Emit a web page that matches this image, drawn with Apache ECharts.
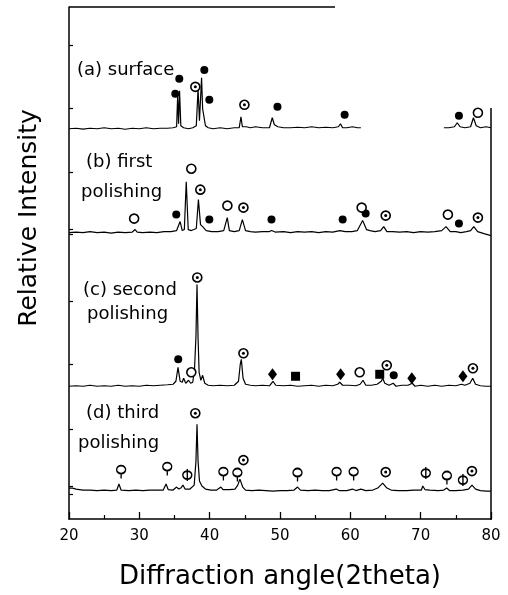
<!DOCTYPE html>
<html><head><meta charset="utf-8">
<script src="https://cdn.jsdelivr.net/npm/echarts@6/dist/echarts.min.js"></script>
<style>html,body{margin:0;padding:0;background:#fff}#c{width:508px;height:595px}</style>
</head><body><div id="c"></div>
<script>
// ---- data ----
const xLabels = [20, 30, 40, 50, 60, 70, 80];
const xName = 'Diffraction angle(2theta)';
const yName = 'Relative Intensity';
const panelLabels = ['(a) surface', '(b) first', 'polishing', '(c) second', 'polishing', '(d) third', 'polishing'];
const yTickValues = [475, 412, 347, 290, 285, 218, 155, 90, 33, 25];
// stacking offsets for (a),(b),(c),(d)
const offsets = [391, 287, 133, 28];

const patternA = [[20,0],[21,0.5],[22,-0.3],[23,0.5],[24,0],[25,1],[26,0],[27,0.5],[28,-0.5],[29,0.5],[30,0],[31,1],[32,0],[33,0.5],[34,0.5],[34.8,1],[35.3,2],[35.45,33],[35.58,5],[35.72,38],[35.9,3],[36.3,1],[37,0],[37.6,1],[38.1,3],[38.35,40],[38.55,8],[38.85,51],[39.0,20],[39.15,18],[39.4,3],[39.8,1],[40.5,0],[41.5,1],[42.5,0],[43.5,1],[44.2,1],[44.45,12],[44.65,2],[45.2,2],[45.8,1],[46.5,2],[47.5,1],[48.5,1],[48.9,11],[49.2,4],[49.7,2],[50.5,1],[51.5,1],[52.5,1.5],[53.5,1],[54.5,2],[55.5,1],[56.5,1.5],[57.5,1],[58.3,2],[58.6,5],[58.9,1],[59.5,1],[60.3,2],[61,1],[61.5,1],[67,null],[73.3,1],[74,1],[74.8,2],[75.2,6],[75.6,2],[76.3,1],[77.1,2],[77.5,11],[77.9,3],[78.5,1],[79.3,2],[80,1]];
const patternB = [[20,0],[21,0.5],[22,0],[23,1],[24,0],[25,0.5],[26,-0.5],[27,0.5],[28,0],[29,0.5],[29.4,3],[29.7,0.5],[30.5,0],[31.5,0.5],[32.5,0],[33.5,1],[34.5,1],[35.3,2],[35.8,11],[36.1,2],[36.4,3],[36.67,51],[36.95,3],[37.4,2],[38.1,4],[38.4,33],[38.7,8],[39,6],[39.5,2],[40.3,1],[41.2,1],[42,2],[42.5,15],[42.8,2],[43.5,1],[44.2,2],[44.65,13],[45.1,2],[45.8,1],[46.5,0.5],[47.5,1],[48.5,1],[48.8,2],[49.3,0.5],[50.5,1],[51.5,0],[52.5,1],[53.5,0.5],[54.5,1],[55.5,0],[56.5,1],[57.5,0.5],[58.5,2],[59.3,1],[60.2,1],[61,2],[61.75,12],[62.3,3],[62.8,2],[63.5,1],[64.3,2],[64.75,6],[65.2,1],[66,1],[67,0.5],[68,1],[69,0],[70,1],[71,0.5],[72,1],[73,2],[73.6,6],[74.2,1],[75,1],[75.7,0],[76.5,1],[77.1,2],[77.55,6],[78.1,1],[79,-1],[80,-3]];
const patternC = [[20,0],[21,0.5],[22,0],[23,1],[24,0],[25,0.5],[26,0],[27,1],[28,0],[29,0.5],[30,0],[31,1],[32,0.5],[33,1],[34,1.5],[34.8,2],[35.2,5],[35.5,19],[35.8,5],[36.1,4],[36.3,8],[36.6,3],[37.0,6],[37.3,3],[37.6,4],[37.85,18],[38.05,50],[38.2,102],[38.35,48],[38.5,14],[38.75,6],[39.0,11],[39.3,3],[39.8,1],[40.5,0.5],[41.5,1],[42.5,0.5],[43.5,1],[44.1,5],[44.35,22],[44.5,27],[44.75,8],[45.1,2],[45.8,1],[46.5,0.5],[47.5,1],[48.5,0.5],[49.0,5],[49.4,1],[50.5,0.5],[51.5,1],[52.5,0],[53.5,0.5],[54.5,1],[55.5,0],[56.5,1],[57.5,0.5],[58.2,2],[58.5,4],[58.9,1],[59.8,1],[60.8,0.5],[61.4,2],[61.8,6],[62.2,1],[63,1],[63.8,2],[64.4,5],[64.6,8],[64.9,3],[65.5,1],[66.1,3],[66.5,0],[67.3,1],[68.2,1],[68.8,3],[69.2,0],[70,1],[71,0],[72,1],[73,0],[74,1],[75,0.5],[75.8,2],[76.3,1],[77.0,3],[77.4,8],[77.8,2],[78.5,0.5],[79.3,0],[80,0]];
const patternD = [[20,3],[20.5,3],[21,2],[22,1],[23,1],[24,0.5],[25,1],[26,0.5],[26.8,1],[27.1,7],[27.4,1],[28.5,0.5],[29.5,1],[30.5,0.5],[31.5,1],[32.5,1],[33.4,1],[33.8,7],[34.1,1.5],[34.8,1],[35.3,4],[35.6,2],[35.9,3],[36.2,6],[36.5,2],[37.2,2],[37.8,6],[38.05,30],[38.2,67],[38.35,30],[38.55,10],[38.9,5],[39.4,2],[40.2,1],[41.0,1],[41.6,4],[41.9,1.5],[42.8,1.5],[43.6,2],[44.0,6],[44.3,12],[44.5,11],[44.7,4],[45.1,1],[46,0.5],[47,1],[48,0.5],[49,0],[50,0.5],[51,0.5],[52,1],[52.5,4],[52.9,1],[54,0.5],[55,1],[56,0.5],[57,0.5],[58,2],[58.4,0.5],[59.5,0.5],[60.3,2],[60.8,0.5],[61.5,2],[62.2,0.5],[63.2,1],[63.9,3],[64.6,8],[65.2,3],[65.8,1],[66.8,0.5],[68,0.5],[69,1],[70.1,1],[70.3,5],[70.6,1.5],[71.3,1],[72.5,0.5],[73.3,1],[73.7,3],[74.1,0.5],[75,0.5],[76,1],[76.8,2],[77.3,6],[77.8,2],[78.5,0.5],[79.3,0],[80,0]];

// phase markers [2theta, plotted height]
const markFilledCircle = [[35.11,426],[35.68,441],[39.24,450],[39.95,420],[49.64,413],[59.19,405],[75.44,404],
  [35.25,305],[39.95,300],[48.79,300],[58.91,300],[62.18,306],[75.44,296],
  [35.53,160],[66.17,144]];
const markOpenCircle = [[78.14,407],
  [29.26,301],[37.39,351],[42.52,314],[61.61,312],[73.87,305],
  [37.39,147],[61.33,147]];
const markDotCircle = [[37.96,433],[44.94,415],
  [38.67,330],[44.80,312],[65.03,304],[78.14,302],
  [38.24,242],[44.80,166],[65.18,154],[77.43,151],
  [37.96,106],[44.80,59],[65.03,47],[77.29,48]];
const markDiamond = [[48.93,145],[58.62,145],[68.74,141],[76.01,143]];
const markSquare = [[52.21,143],[64.18,145]];
const markPin = [[27.41,47],[33.97,50],[41.95,45],[43.94,44],[52.49,44],[58.05,45],[60.47,45],[73.73,41]];
const markPhi = [[36.82,44],[70.73,46],[76.01,39]];

// ---- chart ----
const patterns = [patternA, patternB, patternC, patternD];
const lineSeries = patterns.map((p, i) => ({
  type: 'line', showSymbol: false, symbol: 'none', animation: false,
  data: p.map(d => [d[0], d[1] == null ? null : offsets[i] + d[1]]),
  lineStyle: { color: '#000', width: 1.2 }, z: 2
}));
const black = '#000';
function sc(data, symbol, size, fill, extra) {
  return Object.assign({
    type: 'scatter', data: data, symbol: symbol, symbolSize: size, animation: false,
    itemStyle: { color: fill, borderColor: black, borderWidth: fill === '#fff' ? 1.6 : 0, opacity: 1 }, z: 5
  }, extra || {});
}
const pinPath = 'path://M4,0A4,4 0 1 1 3.99,0ZM4,8L4,13';
const phiPath = 'path://M4,2A4,4 0 1 1 3.99,2ZM4,0L4,12';

const txt = (t, x, y) => ({ type: 'text', x: x, y: y, style: { text: t, fill: '#000', font: '18px "DejaVu Sans"', textAlign: 'left', textVerticalAlign: 'middle' } });

const chart = echarts.init(document.getElementById('c'), null, { renderer: 'canvas' });
chart.setOption({
  backgroundColor: '#fff',
  animation: false,
  grid: { left: 69, right: 17, top: 7, bottom: 75 },
  xAxis: {
    type: 'value', min: xLabels[0], max: xLabels[xLabels.length - 1], interval: 10,
    name: xName, nameLocation: 'middle', nameGap: 45,
    nameTextStyle: { fontFamily: 'DejaVu Sans', fontSize: 26, color: '#000' },
    axisLine: { show: true, lineStyle: { color: '#000', width: 1.5 } },
    axisTick: { show: true, inside: true, length: 7, lineStyle: { color: '#000', width: 1.3 } },
    minorTick: { show: true, splitNumber: 2, length: 4, lineStyle: { color: '#000', width: 1.2 } },
    axisLabel: { fontFamily: 'DejaVu Sans', fontSize: 15, color: '#000', margin: 10 },
    splitLine: { show: false }
  },
  yAxis: {
    type: 'value', min: 0, max: 513,
    axisLine: { show: true, lineStyle: { color: '#000', width: 1.5 } },
    axisTick: { show: true, inside: true, length: 4, customValues: yTickValues, lineStyle: { color: '#000', width: 1.2 } },
    axisLabel: { show: false },
    splitLine: { show: false }
  },
  graphic: [
    { type: 'line', shape: { x1: 69, y1: 7, x2: 335, y2: 7 }, style: { stroke: '#000', lineWidth: 1.5 } },
    { type: 'line', shape: { x1: 491, y1: 108, x2: 491, y2: 520 }, style: { stroke: '#000', lineWidth: 1.5 } },
    { type: 'text', x: 29, y: 218, rotation: Math.PI / 2,
      style: { text: yName, fill: '#000', font: '25px "DejaVu Sans"', textAlign: 'center', textVerticalAlign: 'middle' } },
    txt(panelLabels[0], 77, 70),
    txt(panelLabels[1], 86, 162),
    txt(panelLabels[2], 81, 192),
    txt(panelLabels[3], 83, 290),
    txt(panelLabels[4], 87, 314),
    txt(panelLabels[5], 86, 413),
    txt(panelLabels[6], 78, 443)
  ],
  series: lineSeries.concat([
    sc(markFilledCircle, 'circle', 8, black),
    sc(markOpenCircle, 'circle', 9, '#fff'),
    sc(markDotCircle, 'circle', 9, '#fff'),
    sc(markDotCircle, 'circle', 3, black, { z: 6 }),
    sc(markDiamond, 'diamond', [9, 12], black),
    sc(markSquare, 'rect', 9, black),
    sc(markPin, pinPath, [9, 13], '#fff'),
    sc(markPhi, phiPath, [9, 12], '#fff')
  ])
});
</script>
</body></html>
